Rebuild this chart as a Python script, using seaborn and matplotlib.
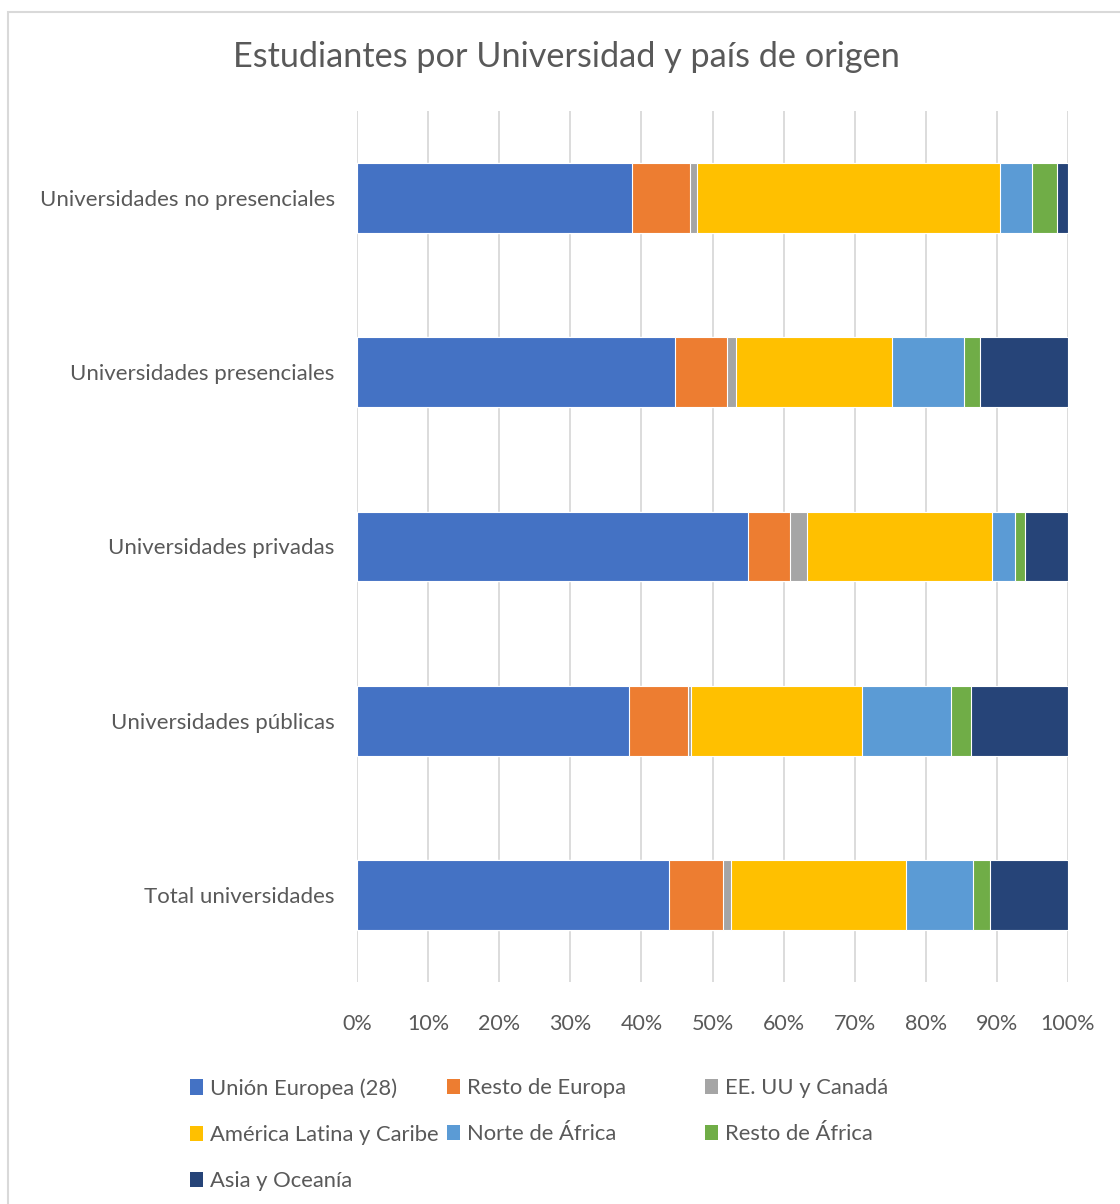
import matplotlib
matplotlib.use("Agg")
import matplotlib.pyplot as plt
import seaborn as sns
import numpy as np
from matplotlib.patches import Rectangle
from matplotlib.ticker import FuncFormatter

categories = ["Universidades no presenciales", "Universidades presenciales",
              "Universidades privadas", "Universidades públicas", "Total universidades"]
series_names = ["Unión Europea (28)", "Resto de Europa", "EE. UU y Canadá",
                "América Latina y Caribe", "Norte de África", "Resto de África",
                "Asia y Oceanía"]
union_europea = [38.7, 44.7, 55.0, 38.3, 43.9]
resto_europa = [8.1, 7.4, 5.9, 8.3, 7.6]
eeuu_canada = [1.0, 1.2, 2.4, 0.4, 1.1]
america_latina = [42.7, 22.0, 26.0, 24.0, 24.6]
norte_africa = [4.5, 10.1, 3.3, 12.6, 9.5]
resto_africa = [3.4, 2.2, 1.4, 2.8, 2.3]
asia_oceania = [1.6, 12.4, 6.0, 13.6, 11.0]
colors = ["#4472C4", "#ED7D31", "#A5A5A5", "#FFC000", "#5B9BD5", "#70AD47", "#264478"]

sns.set_theme(style="white")
plt.rcParams["font.family"] = ["Lato", "DejaVu Sans"]
TXT = "#595959"

data = np.array([union_europea, resto_europa, eeuu_canada, america_latina,
                 norte_africa, resto_africa, asia_oceania])
totals = data.sum(axis=0)
shares = data / totals * 100
cum = np.cumsum(shares, axis=0)

fig = plt.figure(figsize=(11.2, 12.04), dpi=100)
ax = fig.add_axes([357/1120, 1-982/1204, (1068-357)/1120, (982-111)/1204])

for i in range(len(series_names) - 1, -1, -1):
    sns.barplot(x=cum[i], y=categories, orient="h", color=colors[i], saturation=1,
                width=0.4, edgecolor="white", linewidth=0.8, label=series_names[i], ax=ax)

ax.set_xlim(0, 100)
ax.set_xticks(np.arange(0, 101, 10))
ax.xaxis.set_major_formatter(FuncFormatter(lambda v, p: f"{v:.0f}%"))
ax.grid(axis="x", color="#D9D9D9", linewidth=1.3)
ax.set_axisbelow(True)
for s in ax.spines.values():
    s.set_visible(False)
ax.tick_params(axis="x", length=0, pad=23, labelsize=15.5, labelcolor=TXT)
ax.tick_params(axis="y", length=0, pad=16, labelsize=16, labelcolor=TXT)
ax.set_xlabel("")
ax.set_ylabel("")
if ax.get_legend():
    ax.get_legend().remove()

fig.text(566/1120, 1-57/1204, "Estudiantes por Universidad y país de origen",
         ha="center", va="center", fontsize=24.7, color=TXT)

handles, labels = ax.get_legend_handles_labels()
hmap = dict(zip(labels, handles))
cols = [[series_names[0], series_names[3], series_names[6]],
        [series_names[1], series_names[4]],
        [series_names[2], series_names[5]]]
xs = [190, 447, 705]
for xc, names in zip(xs, cols):
    leg = fig.legend([hmap[n] for n in names], names, loc="upper left",
                     bbox_to_anchor=(xc/1120, 1-1078/1204), frameon=False,
                     fontsize=15.8, labelcolor=TXT, handlelength=0.6, handleheight=0.7,
                     handletextpad=0.3, labelspacing=1.2, borderpad=0, borderaxespad=0)
    for h in leg.legend_handles:
        h.set_edgecolor("none")

fig.patches.append(Rectangle((8/1120, -0.05), 1.2, 1-12/1204+0.05, transform=fig.transFigure,
                             fill=False, edgecolor="#D9D9D9", linewidth=1.5))

fig.savefig("out.png", dpi=100, facecolor="white")
